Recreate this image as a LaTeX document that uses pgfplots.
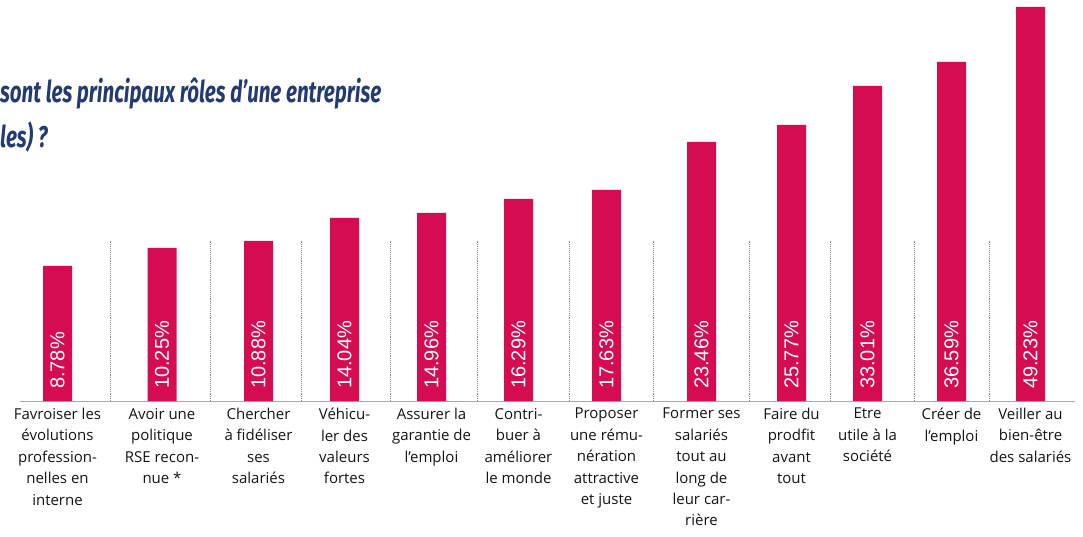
\documentclass[border=0pt]{standalone}
\usepackage{pgfplots}
\pgfplotsset{compat=1.18}
\usepackage{pgfplotstable}
\usepackage{fontspec}
\setmainfont{Open Sans}
\newfontfamily\valfont{Liberation Sans}
\newfontfamily\titlefont[FakeStretch=0.685]{Fira Sans}
\definecolor{barred}{HTML}{D50C52}
\definecolor{titleblue}{HTML}{233B72}
\definecolor{labeltext}{HTML}{141414}
\definecolor{sepgray}{HTML}{8A8A8A}
\definecolor{basegray}{HTML}{A8A8A8}

% x = bar centre, h = drawn bar height (as in the picture), val = printed share
\pgfplotstableread{
x      h    val
57.5   135  8.78
162.0  153  10.25
258.5  160  10.88
344.5  183  14.04
431.5  188  14.96
518.5  202  16.29
606.5  211  17.63
701.5  259  23.46
791.5  276  25.77
867.5  315  33.01
951.5  339  36.59
1030.5 394  49.23
}\data

\begin{document}
\begin{tikzpicture}
\begin{axis}[
  scale only axis,
  width=1083pt, height=536pt,
  xmin=0, xmax=1083, ymin=-135, ymax=401,
  clip=false,
  axis x line=bottom, axis y line=none,
  axis line style={draw=none},
  tick style={draw=none},
  major tick length=0pt,
  ytick=\empty,
  xtick={57.5,162,258.5,344.5,431.5,518.5,606.5,701.5,791.5,867.5,951.5,1030.5},
  xticklabels={
    {Favroiser les\\évolutions\\profession-\\nelles en\\interne},
    {Avoir une\\politique\\RSE recon-\\nue *},
    {Chercher\\à fidéliser\\ses\\salariés},
    {Véhicu-\\ler des\\valeurs\\fortes},
    {Assurer la\\garantie de\\l’emploi},
    {Contri-\\buer à\\améliorer\\le monde},
    {Proposer\\une rému-\\nération\\attractive\\et juste},
    {Former ses\\salariés\\tout au\\long de\\leur car-\\rière},
    {Faire du\\prodfit\\avant\\tout},
    {Etre\\utile à la\\société},
    {Créer de\\l’emploi},
    {Veiller au\\bien-être\\des salariés}},
  xticklabel style={align=center, anchor=north, inner sep=0pt, yshift=128pt,
    font=\fontsize{15}{21.4}\selectfont, text=labeltext},
]
% baseline
\addplot[basegray, line width=1pt, mark=none] coordinates {(20,0) (1075,0)};
% dotted separators
\addplot[ycomb, mark=none, sepgray, densely dotted, line width=0.9pt] coordinates {
  (110,160) (210.5,160) (301.5,160) (390,160) (477,160) (569,160)
  (653.5,160) (749,160) (830,160) (914,160) (989,160)};
% bars
\addplot[ybar, bar width=29, fill=barred, draw=none, mark=none] table[x=x, y=h] {\data};
% value labels
\addplot[draw=none, mark=none, point meta=explicit symbolic,
  nodes near coords={\pgfplotspointmeta\%},
  nodes near coords style={anchor=west, rotate=90, inner sep=0pt,
    font=\valfont\fontsize{20}{20}\selectfont, text=white}]
  table[x=x, y expr=12, meta=val] {\data};
% title (cropped in the original)
\node[anchor=base west, inner sep=0pt, text=titleblue,
  font=\titlefont\bfseries\itshape\fontsize{30}{30}\selectfont]
  at (axis cs:0,298) {sont les principaux rôles d’une entreprise};
\node[anchor=base west, inner sep=0pt, text=titleblue,
  font=\titlefont\bfseries\itshape\fontsize{30}{30}\selectfont]
  at (axis cs:0,253) {les) ?};
\end{axis}
\pgfresetboundingbox
\useasboundingbox (0,0) rectangle (1083pt,536pt);
\end{tikzpicture}
\end{document}
